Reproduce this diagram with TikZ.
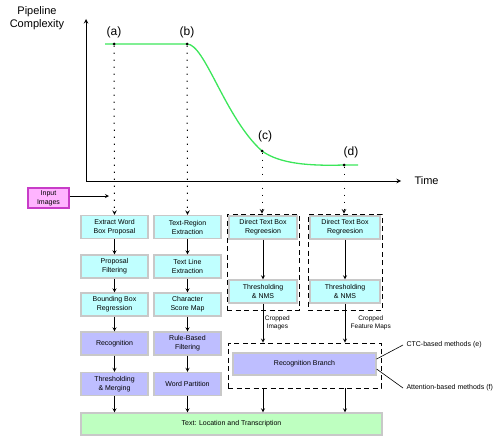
\documentclass[tikz,border=0pt]{standalone}
\usepackage{fontspec}
\setmainfont{Liberation Sans}
\usepackage{xcolor}
\usetikzlibrary{shapes,arrows,positioning}

\definecolor{stepcyan}{RGB}{192,255,255}
\definecolor{steppurple}{RGB}{190,190,255}
\definecolor{stepgreen}{RGB}{190,255,192}
\definecolor{stepgray}{RGB}{200,200,200}
\definecolor{inpink}{RGB}{255,180,255}
\definecolor{inborder}{RGB}{200,60,200}
\definecolor{curvegreen}{RGB}{60,230,90}

\begin{document}
\begin{tikzpicture}[
    x=1pt, y=-1pt,
    box/.style={rectangle, draw=stepgray, line width=1.2pt, minimum width=67pt,
                minimum height=23pt, inner sep=1pt, align=center,
                font=\fontsize{7}{9}\selectfont},
    cyanbox/.style={box, fill=stepcyan},
    purplebox/.style={box, fill=steppurple},
    dashbox/.style={rectangle, draw=black, line width=0.8pt, dash pattern=on 5pt off 3.5pt},
    dotline/.style={line width=1pt, dash pattern=on 1.2pt off 5.8pt},
    flow/.style={->, >=stealth, line width=0.8pt},
    ptdot/.style={circle, fill=black, inner sep=0pt, minimum size=3pt}
]
\useasboundingbox (0,0) rectangle (494,436);

% Axes
\coordinate (origin) at (86,181);
\coordinate (ytop) at (86,19);
\coordinate (xend) at (401,181);
\draw[->, >=stealth, line width=1pt] (origin) -- (ytop);
\draw[->, >=stealth, line width=1pt] (origin) -- (xend);
\node[align=center, font=\fontsize{11}{13.5}\selectfont] (ylabel) at (37,18) {Pipeline\\Complexity};
\node[anchor=west, font=\fontsize{11}{13}\selectfont] (xlabel) at (411,181) {Time};

% Complexity curve
\draw[curvegreen, line width=1.3pt] (105,44) -- (187,44)
    .. controls (205,44) and (225,118) .. (262,151)
    .. controls (280,164) and (310,166) .. (344,165) -- (358,165);

% Points on the curve
\node[ptdot] (pa) at (114,44) {};
\node[ptdot] (pb) at (187,44) {};
\node[ptdot] (pc) at (262,151) {};
\node[ptdot] (pd) at (344,165) {};
\node[font=\fontsize{12}{14}\selectfont] (la) at (114,32) {(a)};
\node[font=\fontsize{12}{14}\selectfont] (lb) at (187,32) {(b)};
\node[font=\fontsize{12}{14}\selectfont] (lc) at (265,136) {(c)};
\node[font=\fontsize{12}{14}\selectfont] (ld) at (351,152) {(d)};

% Input
\node[box, fill=inpink, draw=inborder, minimum width=41pt, minimum height=20pt] (input) at (48.5,198) {Input\\Images};
\coordinate (inend) at (109,196);
\draw[flow] (input.east |- inend) -- (inend);

% Pipeline (a)
\node[cyanbox] (a1) at (114.5,227) {Extract Word\\Box Proposal};
\node[cyanbox] (a2) at (114.5,266.5) {Proposal\\Filtering};
\node[cyanbox] (a3) at (114.5,304.5) {Bounding Box\\Regression};
\node[purplebox] (a4) at (114.5,343.5) {Recognition};
\node[purplebox] (a5) at (114.5,384) {Thresholding\\\& Merging};

% Pipeline (b)
\node[cyanbox] (b1) at (187.5,227) {Text-Region\\Extraction};
\node[cyanbox] (b2) at (187.5,266.5) {Text Line\\Extraction};
\node[cyanbox] (b3) at (187.5,304.5) {Character\\Score Map};
\node[purplebox] (b4) at (187.5,343.5) {Rule-Based\\Filtering};
\node[purplebox] (b5) at (187.5,384) {Word Partition};

% Pipeline (c)
\node[dashbox, minimum width=72pt, minimum height=96pt] (cbox) at (263,262) {};
\node[cyanbox, minimum width=68pt] (c1) at (263,227.5) {Direct Text Box\\Regreesion};
\node[cyanbox, minimum width=68pt] (c2) at (263,291.5) {Thresholding\\\& NMS};

% Pipeline (d)
\node[dashbox, minimum width=74pt, minimum height=96pt] (dbox) at (345,262) {};
\node[cyanbox, minimum width=70pt] (d1) at (345,227.5) {Direct Text Box\\Regreesion};
\node[cyanbox, minimum width=70pt] (d2) at (345,291.5) {Thresholding\\\& NMS};

% Recognition branch
\node[dashbox, minimum width=153pt, minimum height=45pt] (rbox) at (304.5,365.5) {};
\node[purplebox, minimum width=143pt, minimum height=22pt] (rec) at (304.5,364) {Recognition Branch};
\node[anchor=west, font=\fontsize{7}{9}\selectfont] (ctc) at (403,345) {CTC-based methods (e)};
\node[anchor=west, font=\fontsize{7}{9}\selectfont] (att) at (403,388) {Attention-based methods (f)};
\draw[line width=0.6pt] ([yshift=5pt]rec.east) -- (ctc.west);
\draw[line width=0.6pt] ([yshift=-5pt]rec.east) -- (att.west);

% Output
\node[box, fill=stepgreen, minimum width=301pt, minimum height=22pt] (out) at (231.5,424) {Text: Location and Transcription};

% Dotted links from the curve
\draw[dotline, ->, >=stealth] (pa) -- (a1.north);
\draw[dotline, ->, >=stealth] (pb) -- (b1.north);
\draw[dotline, ->, >=stealth] (pc) -- (pc |- cbox.north);
\draw[dotline, ->, >=stealth] (pd) -- (pd |- dbox.north);

% Flow arrows
\draw[flow] (a1) -- (a2);
\draw[flow] (a2) -- (a3);
\draw[flow] (a3) -- (a4);
\draw[flow] (a4) -- (a5);
\draw[flow] (a5) -- (a5 |- out.north);
\draw[flow] (b1) -- (b2);
\draw[flow] (b2) -- (b3);
\draw[flow] (b3) -- (b4);
\draw[flow] (b4) -- (b5);
\draw[flow] (b5) -- (b5 |- out.north);
\draw[flow] (c1) -- (c2);
\draw[flow] (d1) -- (d2);
\draw[flow] (c2) -- node[right, align=center, font=\fontsize{6.5}{8}\selectfont, inner sep=1.5pt] {Cropped\\Images} (c2 |- rbox.north);
\draw[flow] (d2) -- node[right, align=center, font=\fontsize{6.5}{8}\selectfont, xshift=2pt] {Cropped\\Feature Maps} (d2 |- rbox.north);
\draw[flow] (rbox.south -| c2) -- (c2 |- out.north);
\draw[flow] (rbox.south -| d2) -- (d2 |- out.north);

\end{tikzpicture}
\end{document}
